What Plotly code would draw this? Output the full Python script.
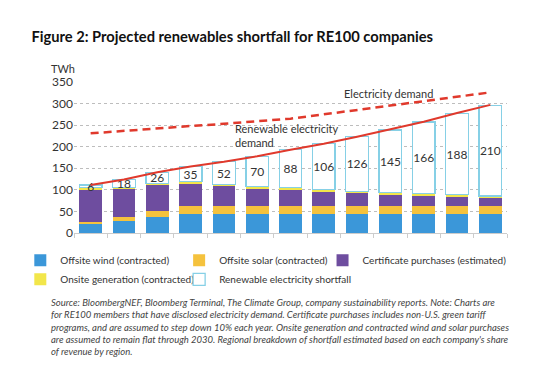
import plotly.graph_objects as go

years = ["2018", "2019", "2020", "2021", "2022", "2023", "2024", "2025", "2026", "2027", "2028", "2029", "2030"]
offsite_wind = [22, 28, 37, 45, 45, 45, 45, 45, 45, 45, 45, 45, 45]
offsite_solar = [3, 8, 15, 17, 17, 17, 17, 17, 17, 17, 17, 17, 17]
certificates = [76, 67, 60, 53, 47, 42, 39, 35, 31, 28, 25, 23, 20]
onsite = [4, 3, 3, 4, 4, 4, 4, 4, 4, 4, 4, 4, 4]
shortfall = [6, 18, 26, 35, 52, 70, 88, 106, 126, 145, 166, 188, 210]
renewable_demand = [111, 124, 141, 154, 165, 178, 193, 207, 223, 240, 258, 278, 297]
electricity_demand = [231, 237, 243, 248, 253, 259, 265, 275, 285, 295, 306, 316, 326]
y_ticks = [0, 50, 100, 150, 200, 250, 300, 350]

FONT = "Lato"
TXT = "#333333"

# The page body has an 8px default margin; the figure is sized to fill the rest of the window.
W, H = 526, 366

fig = go.Figure()
fig.add_bar(x=years, y=offsite_wind, name="Offsite wind (contracted)", legend="legend",
            marker=dict(color="#3b97d9", line=dict(width=0)))
fig.add_bar(x=years, y=offsite_solar, name="Offsite solar (contracted)", legend="legend2",
            marker=dict(color="#f5c23d", line=dict(width=0)))
fig.add_bar(x=years, y=certificates, name="Certificate purchases (estimated)", legend="legend3",
            marker=dict(color="#6e4d9f", line=dict(width=0)))
fig.add_bar(x=years, y=onsite, name="Onsite generation (contracted)", legend="legend",
            marker=dict(color="#f2e64a", line=dict(width=0)))
fig.add_bar(x=years, y=shortfall, name="Renewable electricity shortfall", legend="legend2",
            marker=dict(color="#ffffff", line=dict(color="#86d0e6", width=1.3)),
            text=[str(v) for v in shortfall], textposition="inside",
            insidetextanchor="middle", constraintext="none", textangle=0,
            textfont=dict(family=FONT, size=12, color=TXT))
fig.add_scatter(x=years, y=renewable_demand, mode="lines", showlegend=False,
                line=dict(color="#e0392c", width=2))
fig.add_scatter(x=years, y=electricity_demand, mode="lines", showlegend=False,
                line=dict(color="#e0392c", width=2.5, dash="8px,5px"))

legend_common = dict(orientation="v", y=-0.085, yanchor="top", xanchor="left",
                     traceorder="normal", font=dict(family=FONT, size=10, color=TXT),
                     itemclick=False, itemdoubleclick=False, bgcolor="rgba(0,0,0,0)",
                     tracegroupgap=0)

fig.update_layout(
    width=W, height=H,
    margin=dict(l=50, r=27, t=74, b=141),
    paper_bgcolor="white", plot_bgcolor="white",
    barmode="stack", bargap=0.32,
    font=dict(family=FONT, size=11, color=TXT),
    title=dict(text="<b>Figure 2: Projected renewables shortfall for RE100 companies</b>",
               x=23.5 / W, xanchor="left", xref="container",
               y=1 - 28.7 / H, yanchor="middle", yref="container",
               font=dict(family=FONT, size=14.7, color="#111111")),
    xaxis=dict(type="category", showticklabels=False, ticks="outside", ticklen=4,
               tickson="boundaries", tickcolor="#cccccc", showline=True,
               linecolor="#cccccc", linewidth=1, showgrid=False, range=[-0.5, 12.5]),
    yaxis=dict(range=[0, 350], tickvals=y_ticks, showgrid=True, gridcolor="#bdbdbd",
               griddash="dot", gridwidth=1, zeroline=False, showline=False,
               tickfont=dict(family=FONT, size=12, color=TXT), ticks=""),
    legend=dict(x=-0.124, **legend_common),
    legend2=dict(x=0.2428, **legend_common),
    legend3=dict(x=0.574, **legend_common),
    showlegend=True,
)

fig.add_annotation(text="TWh", xref="paper", yref="paper", x=-0.057, y=1.09,
                   xanchor="left", yanchor="middle", showarrow=False,
                   font=dict(family=FONT, size=11, color=TXT))
fig.add_annotation(text="Electricity demand", xref="paper", yref="y", x=0.727, y=323,
                   xanchor="center", yanchor="middle", showarrow=False,
                   font=dict(family=FONT, size=11, color=TXT))
fig.add_annotation(text="Renewable electricity<br>demand", xref="paper", yref="y",
                   x=0.368, y=226, xanchor="left", yanchor="middle", align="left",
                   showarrow=False, font=dict(family=FONT, size=11, color=TXT))

source = ("Source: BloombergNEF, Bloomberg Terminal, The Climate Group, company sustainability reports. Note: Charts are<br>"
          "for RE100 members that have disclosed electricity demand. Certificate purchases includes non-U.S. green tariff<br>"
          "programs, and are assumed to step down 10% each year. Onsite generation and contracted wind and solar purchases<br>"
          "are assumed to remain flat through 2030. Regional breakdown of shortfall estimated based on each company's share<br>"
          "of revenue by region.")
fig.add_annotation(text="<i>" + source + "</i>", xref="paper", yref="paper",
                   x=-0.057, y=-0.41, xanchor="left", yanchor="top", align="left",
                   showarrow=False, font=dict(family=FONT, size=9.5, color="#444444"))

fig.write_html("out.html")
